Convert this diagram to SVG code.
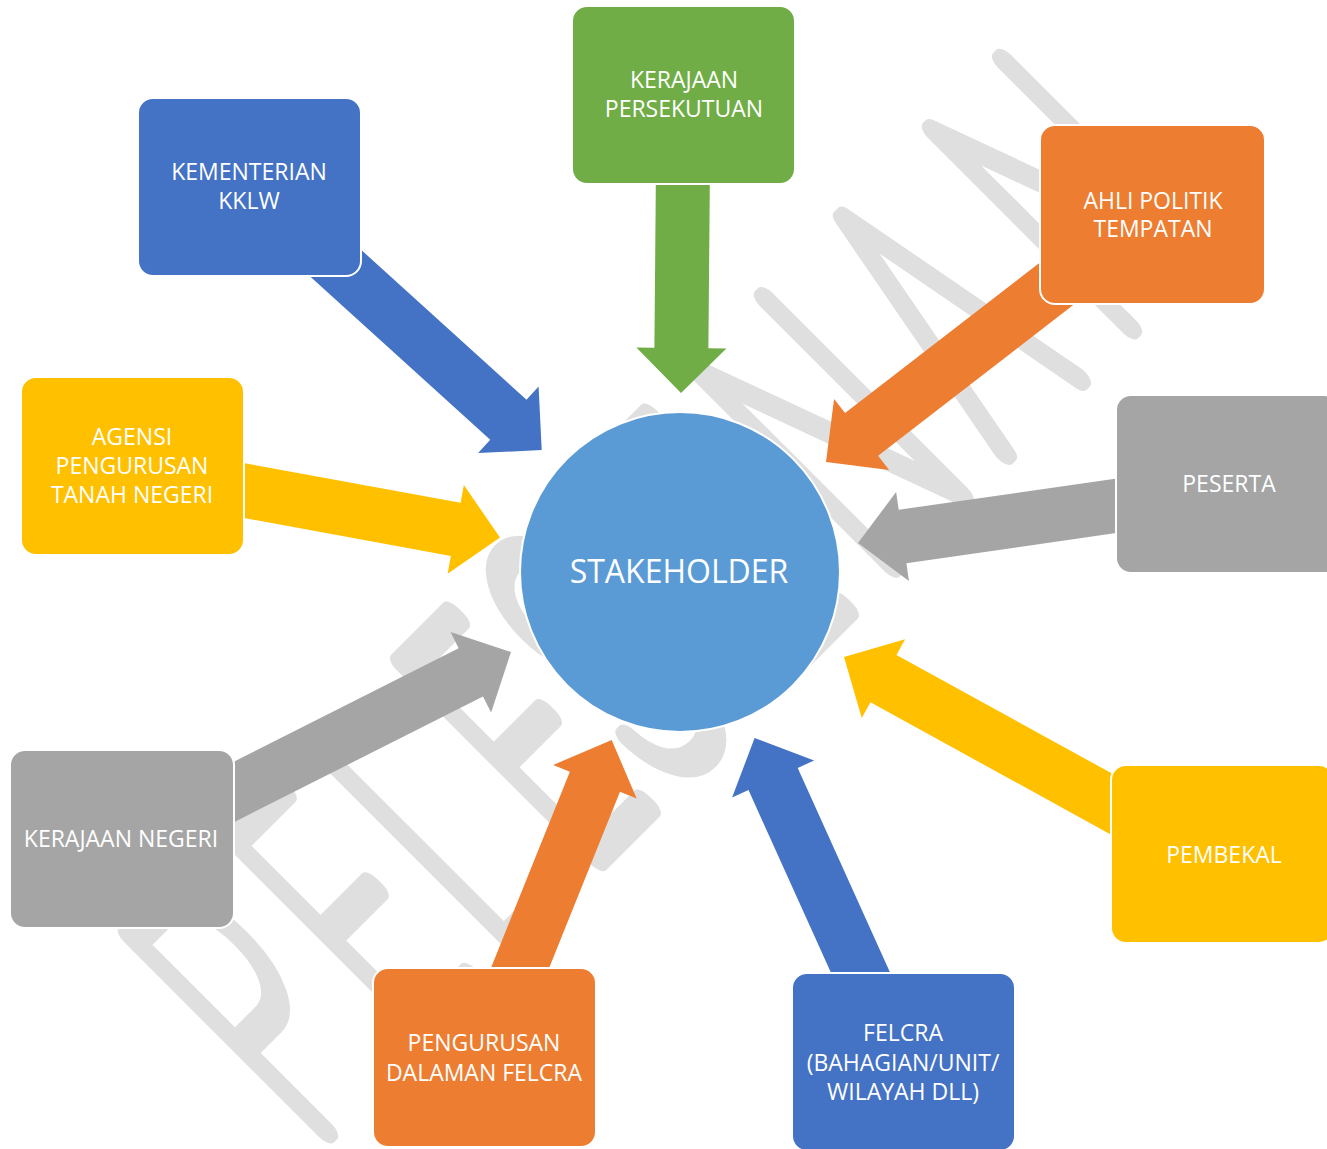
<svg xmlns="http://www.w3.org/2000/svg" width="1327" height="1149" viewBox="0 0 1327 1149">
<style>
.box{stroke:#fff;stroke-width:2}
.blue{fill:#4472C4}.green{fill:#70AD47}.orange{fill:#ED7D31}.yellow{fill:#FFC000}.gray{fill:#A5A5A5}
.lbl{font-family:"Open Sans","Noto Sans",sans-serif;font-size:23px;fill:#fff;text-anchor:middle}
.wm{font-family:Inter,"DejaVu Sans",sans-serif;font-weight:100;font-size:380px;fill:#DFDFDF;stroke:#DFDFDF;stroke-width:22;stroke-linejoin:round;stroke-linecap:round;vector-effect:non-scaling-stroke}
</style>
<rect width="1327" height="1149" fill="#fff"/>
<g id="watermark">
<text class="wm" transform="rotate(-45) translate(-593,1030) scale(0.5,1)" x="0 280 530 770 998 1330 1600 1950 2274" y="0">PELESENAN</text>
</g>
<g id="connectors">
<polygon class="blue" transform="translate(541.7,450) rotate(42.2)" points="-300,-27 -45,-27 -45,-45 0,0 -45,45 -45,27 -300,27"/>
<polygon class="green" transform="translate(681,393) rotate(90.5)" points="-215,-27 -45,-27 -45,-45 0,0 -45,45 -45,27 -215,27"/>
<polygon class="orange" transform="translate(826,462) rotate(142.3)" points="-310,-27 -45,-27 -45,-45 0,0 -45,45 -45,27 -310,27"/>
<polygon class="yellow" transform="translate(500,537.5) rotate(10.4)" points="-280,-27 -45,-27 -45,-45 0,0 -45,45 -45,27 -280,27"/>
<polygon class="gray" transform="translate(858,543) rotate(171.8)" points="-290,-27 -45,-27 -45,-45 0,0 -45,45 -45,27 -290,27"/>
<polygon class="gray" transform="translate(511,652) rotate(-26.8)" points="-330,-27 -45,-27 -45,-45 0,0 -45,45 -45,27 -330,27"/>
<polygon class="yellow" transform="translate(844,657) rotate(-151.2)" points="-330,-27 -45,-27 -45,-45 0,0 -45,45 -45,27 -330,27"/>
<polygon class="orange" transform="translate(611.7,740) rotate(-68.1)" points="-270,-27 -45,-27 -45,-45 0,0 -45,45 -45,27 -270,27"/>
<polygon class="blue" transform="translate(754.6,738) rotate(-114.3)" points="-285,-27 -45,-27 -45,-45 0,0 -45,45 -45,27 -285,27"/>
</g>
<g id="kementerian">
<rect class="box blue" x="138" y="98" width="223" height="178" rx="15"/>
<text class="lbl" x="249" y="180">KEMENTERIAN</text>
<text class="lbl" x="249" y="209">KKLW</text>
</g>
<g id="kerajaan-persekutuan">
<rect class="box green" x="572" y="6" width="223" height="178" rx="15"/>
<text class="lbl" x="684" y="88">KERAJAAN</text>
<text class="lbl" x="684" y="117">PERSEKUTUAN</text>
</g>
<g id="ahli-politik">
<rect class="box orange" x="1040" y="125" width="225" height="179" rx="15"/>
<text class="lbl" x="1153" y="209">AHLI POLITIK</text>
<text class="lbl" x="1153" y="237">TEMPATAN</text>
</g>
<g id="agensi">
<rect class="box yellow" x="21" y="377" width="223" height="178" rx="15"/>
<text class="lbl" x="132" y="445">AGENSI</text>
<text class="lbl" x="132" y="474">PENGURUSAN</text>
<text class="lbl" x="132" y="503">TANAH NEGERI</text>
</g>
<g id="peserta">
<rect class="box gray" x="1116" y="395" width="223" height="178" rx="15"/>
<text class="lbl" x="1229" y="492">PESERTA</text>
</g>
<g id="kerajaan-negeri">
<rect class="box gray" x="10" y="750" width="224" height="178" rx="15"/>
<text class="lbl" x="121" y="847">KERAJAAN NEGERI</text>
</g>
<g id="pembekal">
<rect class="box yellow" x="1111" y="765" width="223" height="178" rx="15"/>
<text class="lbl" x="1224" y="863">PEMBEKAL</text>
</g>
<g id="pengurusan-dalaman">
<rect class="box orange" x="373" y="968" width="223" height="179" rx="15"/>
<text class="lbl" x="484" y="1051">PENGURUSAN</text>
<text class="lbl" x="484" y="1081">DALAMAN FELCRA</text>
</g>
<g id="felcra">
<rect class="box blue" x="792" y="973" width="223" height="178" rx="15"/>
<text class="lbl" x="903" y="1041">FELCRA</text>
<text class="lbl" x="903" y="1071">(BAHAGIAN/UNIT/</text>
<text class="lbl" x="903" y="1100">WILAYAH DLL)</text>
</g>
<g id="stakeholder">
<circle cx="680" cy="572" r="160" fill="#5B9BD5" stroke="#fff" stroke-width="2"/>
<text class="lbl" x="679" y="583" style="font-size:32px">STAKEHOLDER</text>
</g>
</svg>
